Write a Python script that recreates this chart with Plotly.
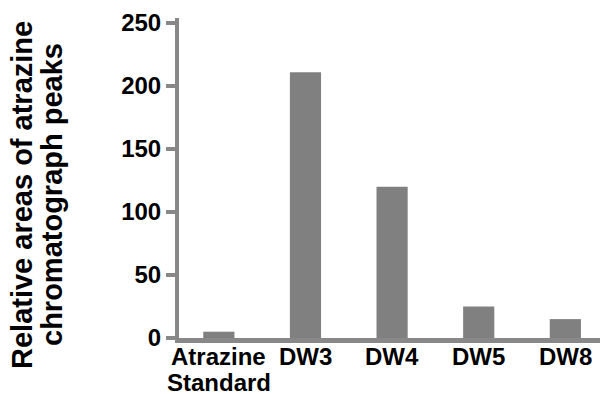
import plotly.graph_objects as go

categories = ["Atrazine<br>Standard", "DW3", "DW4", "DW5", "DW8"]
values = [5, 211, 120, 25, 15]
y_ticks = [0, 50, 100, 150, 200, 250]
y_title_lines = ["Relative areas of atrazine", "chromatograph peaks"]

W, H = 601, 394
L, R, T, B = 179, 1, 18, 56
pw = W - L - R
ph = H - T - B
FAM = "Liberation Sans, Arial, sans-serif"


def px_to_paper_y(py):
    return (H - B - py) / ph


def px_to_paper_x(px):
    return (px - L) / pw


fig = go.Figure(go.Bar(x=categories, y=values,
                       marker=dict(color="#808080", line=dict(width=0)), width=0.36))

annotations = []
# y-axis title lines
for xc, line in zip([22, 52], y_title_lines):
    annotations.append(dict(text="<b>%s</b>" % line, xref="paper", yref="paper",
                            x=px_to_paper_x(xc), y=px_to_paper_y(195),
                            xanchor="center", yanchor="middle", textangle=-90,
                            showarrow=False,
                            font=dict(family=FAM, size=29, color="black")))
# category labels
for cat in categories:
    for i, part in enumerate(cat.split("<br>")):
        annotations.append(dict(text="<b>%s</b>" % part, xref="x", yref="paper",
                                x=cat, y=px_to_paper_y(356 + 26 * i),
                                xanchor="center", yanchor="middle", showarrow=False,
                                height=26,
                                font=dict(family=FAM, size=24, color="black")))

fig.update_layout(
    width=W, height=H, margin=dict(l=L, r=R, t=T, b=B),
    paper_bgcolor="white", plot_bgcolor="white",
    showlegend=False, font=dict(family=FAM, size=24, color="black"),
    xaxis=dict(range=[-0.46, 4.4], showline=True, linewidth=5, linecolor="#888888",
               showgrid=False, ticks="", showticklabels=False, zeroline=False,
               automargin=False),
    yaxis=dict(range=[0, 254], showline=True, linewidth=4, linecolor="#888888",
               showgrid=False, zeroline=False, ticks="outside", ticklen=9, tickwidth=4,
               tickcolor="#888888", tickvals=y_ticks, automargin=False,
               tickfont=dict(family=FAM, size=24, color="black", weight="bold")),
    annotations=annotations,
)

fig.write_html("out.html", config={"displayModeBar": False},
               post_script="document.body.style.margin='0';document.body.style.overflow='hidden';")
